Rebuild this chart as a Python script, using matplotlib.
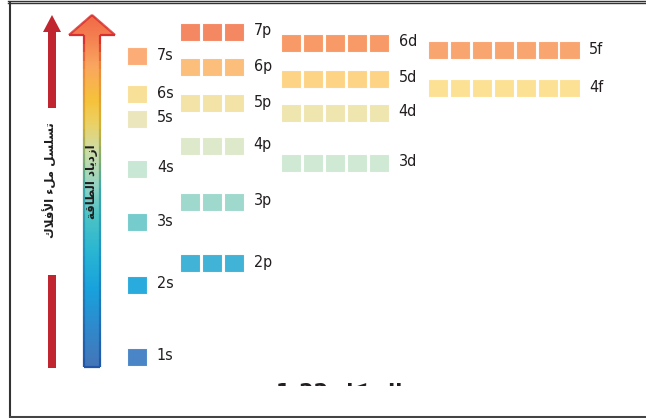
import matplotlib
matplotlib.use("Agg")
import matplotlib.pyplot as plt
import numpy as np
from matplotlib.patches import Rectangle, Polygon
from matplotlib.collections import LineCollection
from matplotlib.colors import LinearSegmentedColormap
from matplotlib.transforms import Bbox, TransformedBbox
from matplotlib import font_manager

# orbitals, ordered by energy (arbitrary units)
orbitals = ['1s', '2s', '2p', '3s', '3p', '4s', '3d', '4p', '5s', '4d',
            '5p', '6s', '4f', '5d', '6p', '7s', '5f', '6d', '7p']
energies = [61, 133, 155, 196, 216, 249, 255, 272, 299, 305,
            315, 324, 330, 339, 351, 362, 368, 375, 386]
colors = ['#4080C4', '#1EA7DC', '#36AFD4', '#6FCACA', '#9AD6CA', '#C6E6D3',
          '#CDE8D2', '#DDE8C9', '#EAE5B9', '#EFE4AB', '#F3E2A2', '#F9DF93',
          '#FCE08F', '#FDD27E', '#FCBB74', '#FBA870', '#F9A068', '#F8955F',
          '#F4825A']

n_cells = {'s': 1, 'p': 3, 'd': 5, 'f': 7}
col_x = {'s': 127, 'p': 180, 'd': 281, 'f': 428}
pitch, cell_w, cell_h = 21.9, 20.4, 18

# arrow text (shaped arabic, visual order)
order_text = "\uFED9\uFEFC\uFED3\uFEF7\uFE8D \uFE80\uFEDE\uFEE3 \uFEDE\uFEB4\uFEE0\uFEB4\uFE97"
energy_text = "\uFE94\uFED7\uFE8E\uFEC4\uFEDF\uFE8D \uFEA9\uFE8E\uFEF3\uFEA9\uFEAF\uFE8D"
caption = "1-22 \uFEDE\uFEDC\uFEB8\uFEDF\uFE8D"

names = {f.name for f in font_manager.fontManager.ttflist}
label_font = 'Liberation Sans Narrow' if 'Liberation Sans Narrow' in names else 'DejaVu Sans'

fig = plt.figure(figsize=(6.46, 4.18), dpi=100)
ax = fig.add_axes([0, 0, 1, 1])

# orbital boxes
for name, e, c in zip(orbitals, energies, colors):
    kind = name[1]
    x0 = col_x[kind]
    for i in range(n_cells[kind]):
        ax.add_patch(Rectangle((x0 + i * pitch, e - cell_h / 2), cell_w, cell_h,
                               facecolor=c, edgecolor='white', linewidth=0.8, alpha=0.95))
    ax.text(x0 + n_cells[kind] * pitch + 8, e + 1, name, fontsize=11.5,
            family=label_font, stretch='condensed',
            color='#231F20', va='center', ha='left')

# gradient energy arrow
grad = LinearSegmentedColormap.from_list('energy', [
    (0.0, '#4575B9'), (0.134, '#2A8FD0'), (0.219, '#18A2DD'), (0.332, '#2BB6D2'),
    (0.43, '#4DC3C5'), (0.517, '#95D3C3'), (0.616, '#CFDDA6'), (0.70, '#EDD060'),
    (0.76, '#F6C23A'), (0.858, '#FAA660'), (0.943, '#F47E50'), (1.0, '#F26A48')])
edge = LinearSegmentedColormap.from_list('edge', [
    (0.0, '#2156A8'), (0.3, '#1A8FC6'), (0.5, '#3AA8A8'), (0.7, '#D8B030'),
    (0.85, '#EE8A3A'), (0.93, '#DA3030'), (1.0, '#D42A2A')])
y_lo, y_hi = 51, 403
pts = [(84, y_lo), (100, y_lo), (100, 383), (115, 383), (92, y_hi), (69, 383), (84, 383)]
poly = Polygon(pts, closed=True, facecolor='none', edgecolor='none')
ax.add_patch(poly)
g = np.linspace(0, 1, 400).reshape(-1, 1)
im = ax.imshow(g, cmap=grad, origin='lower', extent=[65, 120, y_lo, y_hi], aspect='auto')
im.set_clip_path(poly)

segs, segc = [], []
closed = pts + [pts[0]]
for (xa, ya), (xb, yb) in zip(closed[:-1], closed[1:]):
    t = np.linspace(0, 1, 40)
    xs, ys = xa + (xb - xa) * t, ya + (yb - ya) * t
    for k in range(len(t) - 1):
        segs.append([(xs[k], ys[k]), (xs[k + 1], ys[k + 1])])
        segc.append(edge(((ys[k] + ys[k + 1]) / 2 - y_lo) / (y_hi - y_lo)))
ax.add_collection(LineCollection(segs, colors=segc, linewidths=1.6, joinstyle='miter'))

ax.text(92, 236, energy_text, rotation=90, ha='center', va='center', fontsize=8.5,
        fontweight='bold', family='DejaVu Sans', color='#1E1E1E')

# filling-order arrow
red = '#C1252F'
ax.add_patch(Rectangle((48.3, 50), 7.4, 93, facecolor=red, edgecolor='none'))
ax.add_patch(Rectangle((48.3, 310), 7.4, 77, facecolor=red, edgecolor='none'))
ax.add_patch(Polygon([(43, 386), (61, 386), (52, 403)], closed=True, facecolor=red, edgecolor='none'))
ax.text(51, 238, order_text, rotation=90, ha='center', va='center', fontsize=8.5,
        fontweight='bold', family='DejaVu Sans', color='#1E1E1E')

# caption cut off by the frame
cap = ax.text(339, 36, caption, ha='center', va='top', fontsize=15, fontweight='bold',
              family='DejaVu Sans', color='#231F20')
cap.set_clip_box(TransformedBbox(Bbox([[0, 32], [646, 418]]), ax.transData))
cap.set_clip_on(True)

# frame
ax.plot([8, 646], [417.3, 417.3], color='#333333', lw=1.0)
ax.plot([8, 646], [415, 415], color='#333333', lw=1.0)
ax.plot([10, 10], [1.5, 415], color='#333333', lw=1.5)
ax.plot([10, 646], [1.5, 1.5], color='#444444', lw=2.2)

ax.set_xlim(0, 646)
ax.set_ylim(0, 418)
ax.axis('off')
fig.savefig('out.png', dpi=100, facecolor='white')
